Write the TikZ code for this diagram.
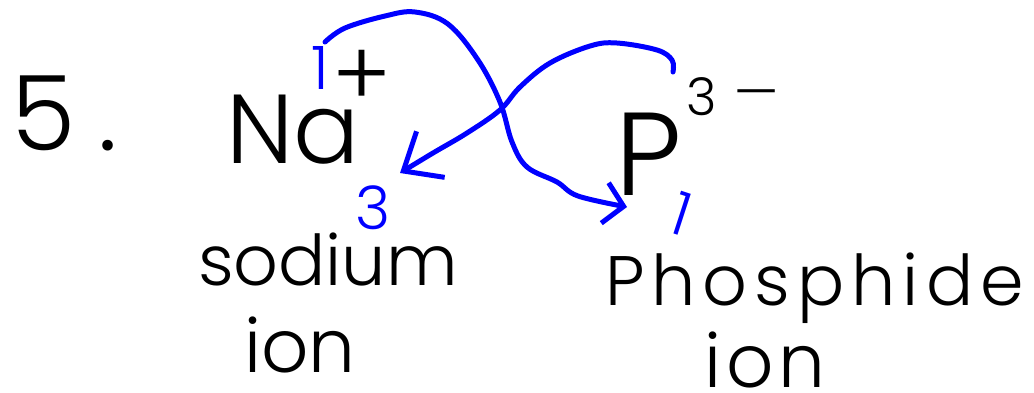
\documentclass[tikz,border=0pt]{standalone}
\usepackage{fontspec}
\setmainfont{Poppins}[UprightFont=* Light]
\usetikzlibrary{arrows.meta}
\definecolor{pen}{RGB}{0,0,255}
\begin{document}
\begin{tikzpicture}[x=1pt,y=-1pt,
  lbl/.style={inner sep=0pt, outer sep=0pt, text=black},
  bluelbl/.style={inner sep=0pt, outer sep=0pt, text=pen},
  pencurve/.style={draw=pen, line width=5pt, line cap=round, line join=round}]
\fill[white] (0,0) rectangle (1034,392);
\useasboundingbox (0,0) rectangle (1034,392);
% labels
\node[lbl, anchor=base west] (five) at (12,150) {\fontsize{104}{104}\selectfont 5\hspace{22pt}.};
\node[lbl, anchor=base west] (na) at (226,163) {\fontsize{98}{98}\selectfont Na};
\node[lbl] (plus) at (362,78) {\fontsize{90}{90}\selectfont +};
\node[bluelbl, anchor=base] (one1) at (320,89) {\fontsize{60}{60}\selectfont 1};
\node[bluelbl, anchor=base] (sub3) at (373,229) {\fontsize{60}{60}\selectfont 3};
\node[lbl, anchor=base west] (p) at (615,195) {\fontsize{118}{118}\selectfont P};
\node[lbl, anchor=base west] (charge) at (686,115) {\fontsize{52}{52}\selectfont 3\hspace{18pt}\raisebox{5pt}{—}};
\node[bluelbl, anchor=base, rotate=-18] (one2) at (675,234) {\fontsize{60}{60}\selectfont 1};
\node[lbl, anchor=base west] (sodium) at (198,285) {\fontsize{70}{70}\selectfont sodium};
\node[lbl, anchor=base] (ion1) at (300,372) {\fontsize{74}{74}\selectfont ion};
\node[lbl, anchor=base west] (phos) at (605,305) {\fontsize{70}{70}\selectfont\addfontfeature{LetterSpace=10}Phosphide};
\node[lbl, anchor=base] (ion2) at (765,387) {\fontsize{74}{74}\selectfont\addfontfeature{LetterSpace=6}ion};
% arrows
\coordinate (s1) at (325,42);
\coordinate (t1) at (627,207);
\coordinate (s2) at (673,72);
\coordinate (t2) at (400,173);
\draw[pencurve, -{Straight Barb[length=19pt,width=41pt]}] plot[smooth, tension=0.6] coordinates {(s1) (345,28) (385,16) (415,12) (448,24) (478,60) (500,102) (512,142) (527,167) (557,182) (578,196) (t1)};
\draw[pencurve, -{Straight Barb[length=32pt,width=54pt]}] plot[smooth, tension=0.6] coordinates {(s2) (672,60) (657,50) (617,43) (590,46) (550,63) (520,87) (500,110) (467,133) (433,153) (t2)};
\end{tikzpicture}
\end{document}
